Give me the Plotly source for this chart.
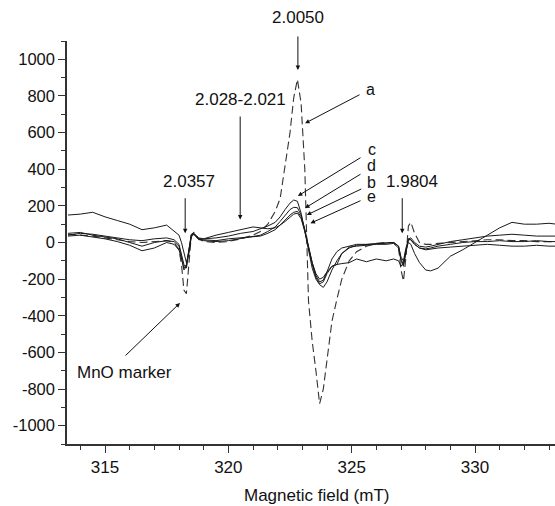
import plotly.graph_objects as go

# Magnetic field grid (mT)
field = [313.5, 314.0, 314.5, 315.0, 315.5, 316.0, 316.5, 317.0, 317.5, 317.8,
         318.0, 318.1, 318.2, 318.3, 318.4, 318.5, 318.6, 318.8, 319.0, 319.5,
         320.0, 320.5, 321.0, 321.3, 321.6, 321.9, 322.1, 322.3, 322.5, 322.65,
         322.8, 322.95, 323.1, 323.25, 323.4, 323.55, 323.7, 323.85, 324.0, 324.2,
         324.4, 324.6, 324.9, 325.2, 325.6, 326.0, 326.4, 326.7, 326.9, 327.0,
         327.1, 327.2, 327.3, 327.4, 327.55, 327.75, 328.0, 328.2, 328.5, 329.0,
         329.5, 330.0, 330.5, 331.0, 331.5, 332.0, 332.5, 333.0, 333.3]

sig_a = [45, 40, 35, 25, 15, 5, 0, 5, 10, 0,
         -40, -120, -260, -280, -100, 40, 55, 20, 5, 0,
         5, 20, 40, 60, 100, 170, 240, 420, 600, 790,
         890, 760, 400, -320, -540, -700, -880, -800, -630, -430,
         -310, -200, -100, -50, -20, -5, 0, 0, -30, -150,
         -210, -80, 90, 110, 50, 0, -10, -10, -5, 0,
         5, 10, 15, 15, 10, 10, 5, 5, 5]

sig_b = [35, 40, 30, 20, 5, -15, -45, -30, 0, -10,
         -40, -90, -140, -120, -30, 40, 45, 15, 15, 10,
         20, 25, 30, 35, 50, 70, 95, 125, 150, 165,
         170, 140, 70, -20, -110, -180, -215, -205, -160, -90,
         -50, -30, -20, -10, -10, -5, 0, 0, -20, -80,
         -100, -30, 15, 15, -10, -30, -40, -35, -30, -25,
         -20, -15, -10, -15, -20, -20, -15, -20, -20]

sig_c = [40, 50, 45, 35, 25, 15, 10, 20, 25, 15,
         -10, -60, -120, -140, -60, 40, 50, 25, 20, 25,
         35, 50, 60, 75, 90, 110, 140, 180, 215, 232,
         225, 160, 60, -50, -140, -200, -230, -245, -215, -150,
         -100, -60, -30, -15, -10, -5, 0, 0, -20, -90,
         -120, -40, 20, 25, 0, -20, -25, -20, -10, 5,
         15, 25, 35, 40, 45, 40, 35, 35, 35]

sig_d = [50, 55, 40, 30, 20, 0, -20, 0, 10, 5,
         -20, -80, -150, -130, -40, 45, 50, 20, 10, 5,
         10, 20, 30, 40, 60, 85, 115, 150, 180, 192,
         190, 150, 70, -30, -120, -190, -225, -215, -170, -130,
         -120, -60, -25, -20, -15, -10, -10, -5, -30, -100,
         -130, -50, 20, 15, -10, -30, -35, -30, -20, -10,
         0, 5, 5, 10, 5, 5, 10, 5, 5]

sig_e = [150, 155, 165, 140, 120, 100, 70, 80, 95, 60,
         40, 0, -60, -110, -60, 30, 45, 20, 20, 40,
         55, 70, 85, 80, 75, 80, 95, 115, 140, 155,
         160, 130, 60, -30, -110, -170, -200, -190, -160, -130,
         -120, -115, -110, -90, -105, -90, -100, -90, -100, -130,
         -110, -40, 0, -10, -60, -110, -150, -155, -140, -75,
         -40, 0, 40, 80, 110, 100, 100, 105, 100]

x_ticks = [315, 320, 325, 330]
y_ticks = [-1000, -800, -600, -400, -200, 0, 200, 400, 600, 800, 1000]
y_tick_text = [str(v) for v in y_ticks]

Y_MIN, Y_MAX = -1100, 1100

# annotations: (label, text x, text y, tail x, tail y, tip x, tip y, font size)
arrow_notes = [
    ("2.0050", 322.82, 1226, 322.82, 1133, 322.82, 942, 17),
    ("2.028-2.021", 320.48, 778, 320.48, 696, 320.48, 125, 17),
    ("2.0357", 318.41, 332, 318.25, 250, 318.25, 50, 17),
    ("1.9804", 327.45, 332, 327.05, 250, 327.05, 50, 17),
    ("a", 325.75, 837, 325.38, 811, 323.11, 651, 16),
    ("c", 325.82, 510, 325.42, 468, 322.82, 254, 16),
    ("d", 325.82, 419, 325.42, 378, 323.11, 188, 16),
    ("b", 325.82, 329, 325.45, 296, 323.18, 150, 16),
    ("e", 325.82, 250, 325.42, 232, 323.33, 105, 16),
    ("MnO marker", 315.81, -707, 315.77, -625, 318.04, -330, 17),
]

FONT = "Arial, Liberation Sans, sans-serif"
fig = go.Figure()
fig.add_trace(go.Scatter(x=field, y=sig_a, mode="lines", name="a",
                         line=dict(color="#333333", width=1.1, dash="8px,4px")))
for name, ys in [("b", sig_b), ("c", sig_c), ("d", sig_d), ("e", sig_e)]:
    fig.add_trace(go.Scatter(x=field, y=ys, mode="lines", name=name,
                             line=dict(color="#1a1a1a", width=1)))


def to_paper(v):
    return (v - Y_MIN) / (Y_MAX - Y_MIN)


annotations = []
for label, tx, ty, ax, ay, px, py, fs in arrow_notes:
    annotations.append(dict(x=px, y=py, ax=ax, ay=ay,
                            xref="x", yref="y", axref="x", ayref="y",
                            text="", showarrow=True,
                            arrowhead=2, arrowsize=0.9, arrowwidth=1,
                            arrowcolor="#111111"))
    annotations.append(dict(x=tx, y=to_paper(ty), xref="x", yref="paper", text=label,
                            showarrow=False, xanchor="center", yanchor="middle",
                            font=dict(size=fs, color="#111111", family=FONT)))
annotations.append(dict(x=0.5117, y=-0.1266, xref="paper", yref="paper",
                        text="Magnetic field (mT)", showarrow=False,
                        xanchor="center", yanchor="middle",
                        font=dict(size=17, color="#111111", family=FONT)))

fig.update_layout(
    width=555, height=506,
    margin=dict(l=67, r=0, t=41, b=62, autoexpand=False),
    paper_bgcolor="white", plot_bgcolor="white",
    showlegend=False,
    font=dict(family=FONT, size=16, color="#111111"),
    annotations=annotations,
    xaxis=dict(range=[313.459, 333.243], tickvals=x_ticks, ticks="outside",
               ticklen=7, tickwidth=1.2, tickcolor="#333333",
               showline=True, linecolor="#333333", linewidth=1.5,
               showgrid=False, zeroline=False, automargin=False,
               minor=dict(dtick=1, tick0=313, ticks="outside", ticklen=4,
                          tickwidth=1.2, tickcolor="#333333", showgrid=False),
               tickfont=dict(size=17)),
    yaxis=dict(range=[Y_MIN, Y_MAX], tickvals=y_ticks, ticktext=y_tick_text,
               ticks="outside",
               ticklen=7, tickwidth=1.2, tickcolor="#333333",
               showline=True, linecolor="#333333", linewidth=1.5,
               showgrid=False, zeroline=False, automargin=False,
               minor=dict(dtick=100, tick0=-1100, ticks="outside", ticklen=4,
                          tickwidth=1.2, tickcolor="#333333", showgrid=False),
               tickfont=dict(size=16.5)),
)

fig.write_html("out.html", config={"displayModeBar": False},
               post_script="document.body.style.margin='0';document.body.style.overflow='hidden';")
